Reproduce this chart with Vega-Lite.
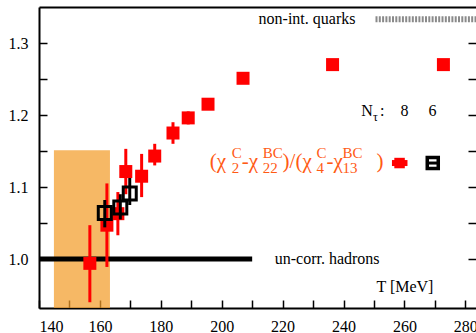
{
  "$schema": "https://vega.github.io/schema/vega-lite/v6.json",
  "width": 437,
  "height": 301,
  "autosize": {"type": "none"},
  "padding": {"left": 39, "top": 7, "right": 0, "bottom": 25},
  "background": "white",
  "config": {
    "view": {"stroke": null},
    "font": "Liberation Serif, Times New Roman, DejaVu Serif, serif",
    "text": {"font": "Liberation Serif, Times New Roman, DejaVu Serif, serif"},
    "axis": {"labelFont": "Liberation Serif, Times New Roman, DejaVu Serif, serif", "labelFontSize": 16, "labelColor": "black", "domainColor": "black", "domainWidth": 2, "tickColor": "black", "tickWidth": 1.5, "grid": false, "title": null}
  },
  "datasets": {
    "red": [
      {"T": 156.7, "r": 0.994, "lo": 0.940, "hi": 1.047},
      {"T": 162.3, "r": 1.047, "lo": 0.989, "hi": 1.105},
      {"T": 165.9, "r": 1.063, "lo": 1.033, "hi": 1.093},
      {"T": 168.5, "r": 1.1215, "lo": 1.090, "hi": 1.153},
      {"T": 173.7, "r": 1.115, "lo": 1.086, "hi": 1.146},
      {"T": 178.0, "r": 1.143, "lo": 1.130, "hi": 1.160},
      {"T": 184.0, "r": 1.175, "lo": 1.160, "hi": 1.190},
      {"T": 189.0, "r": 1.196, "lo": 1.187, "hi": 1.205},
      {"T": 195.5, "r": 1.215, "lo": 1.210, "hi": 1.220},
      {"T": 207.0, "r": 1.251, "lo": 1.247, "hi": 1.255},
      {"T": 236.4, "r": 1.270, "lo": 1.267, "hi": 1.273},
      {"T": 272.8, "r": 1.270, "lo": 1.267, "hi": 1.273}
    ],
    "black": [
      {"T": 161.6, "r": 1.064, "lo": 1.044, "hi": 1.082},
      {"T": 166.7, "r": 1.0715, "lo": 1.055, "hi": 1.090},
      {"T": 169.8, "r": 1.091, "lo": 1.075, "hi": 1.1125}
    ]
  },
  "layer": [
    {
      "data": {"values": [{"x1": 144.9, "x2": 163.3, "y1": 0.932, "y2": 1.151}]},
      "mark": {"type": "rect", "fill": "#f39c2a", "opacity": 0.72},
      "encoding": {
        "x": {"field": "x1", "type": "quantitative", "scale": {"domain": [140, 283.5], "nice": false, "zero": false},
              "axis": {"orient": "bottom", "values": [140,150,160,170,180,190,200,210,220,230,240,250,260,270,280], "labelExpr": "datum.value % 20 == 0 ? datum.label : ''", "tickSize": -8, "labelPadding": 18, "format": "d"}},
        "x2": {"field": "x2"},
        "y": {"field": "y1", "type": "quantitative", "scale": {"domain": [0.932, 1.35], "nice": false, "zero": false},
              "axis": {"orient": "left", "values": [1.0,1.05,1.1,1.15,1.2,1.25,1.3], "labelExpr": "abs(datum.value*10 - round(datum.value*10)) < 0.01 ? format(datum.value, '.1f') : ''", "tickSize": -8, "labelPadding": 19}},
        "y2": {"field": "y2"}
      }
    },
    {
      "data": {"values": [{"a": 140, "b": 210, "y": 1.0}]},
      "mark": {"type": "rule", "color": "black", "strokeWidth": 5},
      "encoding": {"x": {"field": "a", "type": "quantitative", "axis": null}, "x2": {"field": "b"}, "y": {"field": "y", "type": "quantitative", "axis": null}}
    },
    {
      "data": {"values": [{"a": 250.5, "b": 283.5, "y": 1.333}]},
      "mark": {"type": "rule", "color": "#8a8a8a", "strokeWidth": 6, "strokeDash": [2, 1.3]},
      "encoding": {"x": {"field": "a", "type": "quantitative", "axis": null}, "x2": {"field": "b"}, "y": {"field": "y", "type": "quantitative", "axis": null}}
    },
    {
      "data": {"name": "red"},
      "mark": {"type": "rule", "color": "#ff0000", "strokeWidth": 3},
      "encoding": {"x": {"field": "T", "type": "quantitative", "axis": null}, "y": {"field": "lo", "type": "quantitative", "axis": null}, "y2": {"field": "hi"}}
    },
    {
      "data": {"name": "red"},
      "mark": {"type": "point", "shape": "square", "filled": true, "color": "#ff0000", "size": 169, "opacity": 1},
      "encoding": {
        "x": {"field": "T", "type": "quantitative", "axis": {"orient": "top", "ticks": false, "labels": false, "domain": true}},
        "y": {"field": "r", "type": "quantitative", "axis": {"orient": "right", "values": [1.0,1.05,1.1,1.15,1.2,1.25,1.3], "labels": false, "tickSize": -8, "domain": false}}
      }
    },
    {
      "data": {"name": "black"},
      "mark": {"type": "rule", "color": "black", "strokeWidth": 3},
      "encoding": {"x": {"field": "T", "type": "quantitative", "axis": null}, "y": {"field": "lo", "type": "quantitative", "axis": null}, "y2": {"field": "hi"}}
    },
    {
      "data": {"name": "black"},
      "mark": {"type": "point", "shape": "square", "filled": false, "color": "black", "size": 169, "strokeWidth": 3, "opacity": 1},
      "encoding": {"x": {"field": "T", "type": "quantitative", "axis": null}, "y": {"field": "r", "type": "quantitative", "axis": null}}
    },
    {
      "data": {"values": [{"a": 255.9, "b": 261.0, "y": 1.1333}]},
      "mark": {"type": "rule", "color": "#ff0000", "strokeWidth": 6},
      "encoding": {"x": {"field": "a", "type": "quantitative", "axis": null}, "x2": {"field": "b"}, "y": {"field": "y", "type": "quantitative", "axis": null}}
    },
    {
      "data": {"values": [{"T": 258.4, "r": 1.1333}]},
      "mark": {"type": "point", "shape": "square", "filled": true, "color": "#ff0000", "size": 110, "opacity": 1},
      "encoding": {"x": {"field": "T", "type": "quantitative", "axis": null}, "y": {"field": "r", "type": "quantitative", "axis": null}}
    },
    {
      "data": {"values": [{"a": 267.3, "b": 271.3, "y": 1.1333}]},
      "mark": {"type": "rule", "color": "black", "strokeWidth": 3},
      "encoding": {"x": {"field": "a", "type": "quantitative", "axis": null}, "x2": {"field": "b"}, "y": {"field": "y", "type": "quantitative", "axis": null}}
    },
    {
      "data": {"values": [{"T": 269.3, "r": 1.1333}]},
      "mark": {"type": "point", "shape": "square", "filled": false, "color": "black", "size": 121, "strokeWidth": 3.5, "opacity": 1},
      "encoding": {"x": {"field": "T", "type": "quantitative", "axis": null}, "y": {"field": "r", "type": "quantitative", "axis": null}}
    },
    {
      "data": {"values": [
        {"T": 212.1, "r": 1.333, "t": "non-int. quarks"},
        {"T": 217.4, "r": 1.0, "t": "un-corr. hadrons"},
        {"T": 250.8, "r": 0.961, "t": "T [MeV]"},
        {"T": 245.8, "r": 1.2056, "t": "N"},
        {"T": 252.0, "r": 1.2056, "t": ":"},
        {"T": 258.7, "r": 1.2056, "t": "8"},
        {"T": 267.9, "r": 1.2056, "t": "6"}
      ]},
      "mark": {"type": "text", "align": "left", "baseline": "middle", "fontSize": 16, "color": "black"},
      "encoding": {"x": {"field": "T", "type": "quantitative", "axis": null}, "y": {"field": "r", "type": "quantitative", "axis": null}, "text": {"field": "t"}}
    },
    {
      "data": {"values": [{"T": 249.7, "r": 1.197, "t": "τ"}]},
      "mark": {"type": "text", "align": "left", "baseline": "middle", "fontSize": 12, "color": "black"},
      "encoding": {"x": {"field": "T", "type": "quantitative", "axis": null}, "y": {"field": "r", "type": "quantitative", "axis": null}, "text": {"field": "t"}}
    },
    {
      "data": {"values": [
        {"T": 196.07, "r": 1.1264, "t": "(χ"},
        {"T": 206.56, "r": 1.1264, "t": "-χ"},
        {"T": 220.0, "r": 1.1264, "t": ")/(χ"},
        {"T": 234.43, "r": 1.1264, "t": "-χ"},
        {"T": 250.82, "r": 1.1264, "t": ")"}
      ]},
      "mark": {"type": "text", "align": "left", "baseline": "alphabetic", "fontSize": 21, "color": "#ff5a14"},
      "encoding": {"x": {"field": "T", "type": "quantitative", "axis": null}, "y": {"field": "r", "type": "quantitative", "axis": null}, "text": {"field": "t"}}
    },
    {
      "data": {"values": [
        {"T": 203.28, "r": 1.1403, "t": "C"},
        {"T": 203.28, "r": 1.1194, "t": "2"},
        {"T": 213.44, "r": 1.1403, "t": "BC"},
        {"T": 213.44, "r": 1.1194, "t": "22"},
        {"T": 231.15, "r": 1.1403, "t": "C"},
        {"T": 231.15, "r": 1.1194, "t": "4"},
        {"T": 239.67, "r": 1.1403, "t": "BC"},
        {"T": 239.67, "r": 1.1194, "t": "13"}
      ]},
      "mark": {"type": "text", "align": "left", "baseline": "alphabetic", "fontSize": 15, "color": "#ff5a14"},
      "encoding": {"x": {"field": "T", "type": "quantitative", "axis": null}, "y": {"field": "r", "type": "quantitative", "axis": null}, "text": {"field": "t"}}
    }
  ],
  "resolve": {"axis": {"x": "independent", "y": "independent"}}
}
